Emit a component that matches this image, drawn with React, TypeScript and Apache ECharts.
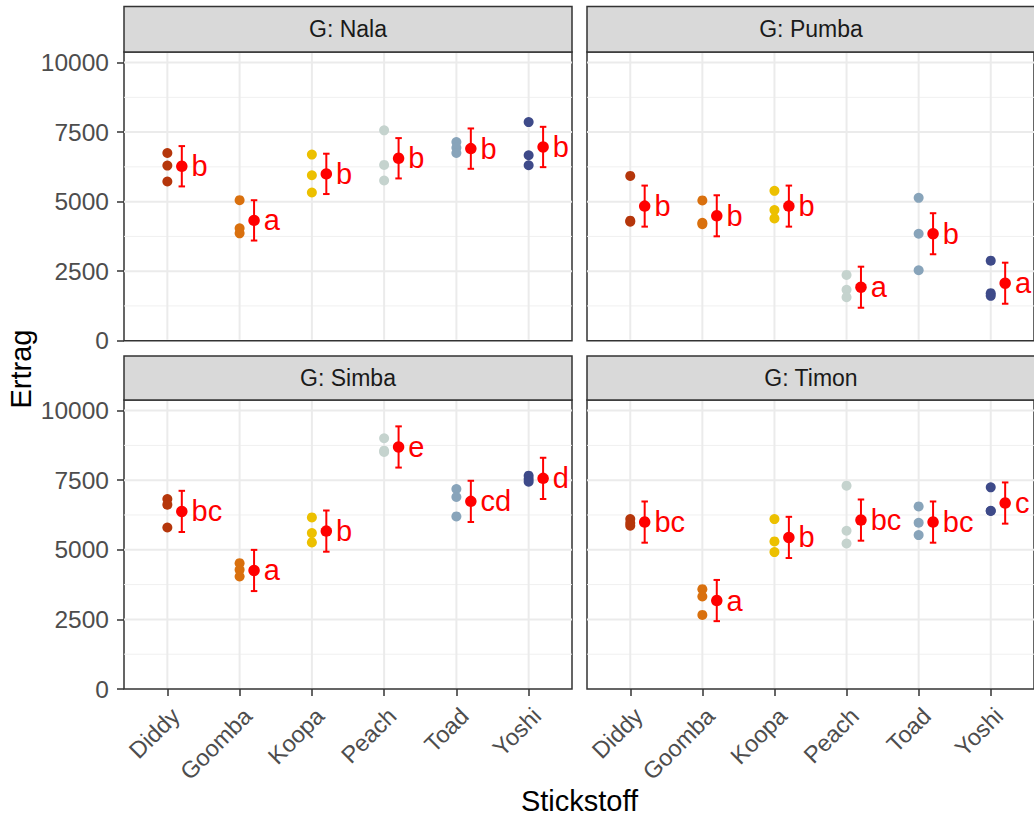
import React, { useEffect, useRef } from "react";
import * as echarts from "echarts";

// ---------- data ----------
const categories = ["Diddy", "Goomba", "Koopa", "Peach", "Toad", "Yoshi"];
const panelTitles = ["G: Nala", "G: Pumba", "G: Simba", "G: Timon"];
const pointColors = ["#B5360B", "#D9700E", "#ECC000", "#C5D3CE", "#88A4BA", "#3E4A89"];

const nalaPoints = [[6749, 6297, 5724], [5054, 4039, 3860], [6691, 5950, 5329], [7563, 6320, 5760], [7143, 6940, 6750], [7861, 6667, 6308]];
const pumbaPoints = [[5925, 4316, 4276], [5043, 4240, 4190], [5387, 4695, 4398], [2366, 1828, 1566], [5137, 3846, 2534], [2878, 1710, 1613]];
const simbaPoints = [[6824, 6619, 5802], [4521, 4281, 4040], [6163, 5600, 5264], [9005, 8561, 8513], [7183, 6895, 6199], [7662, 7543, 7446]];
const timonPoints = [[6104, 5960, 5863], [3585, 3321, 2662], [6104, 5300, 4917], [7302, 5683, 5227], [6559, 5971, 5528], [7242, 6403, 6392]];

const nalaMeans = [6272, 4326, 5998, 6559, 6906, 6965];
const pumbaMeans = [4839, 4491, 4839, 1923, 3846, 2067];
const simbaMeans = [6378, 4257, 5671, 8693, 6739, 7565];
const timonMeans = [5995, 3177, 5444, 6067, 5995, 6679];

const nalaLetters = ["b", "a", "b", "b", "b", "b"];
const pumbaLetters = ["b", "b", "b", "a", "b", "a"];
const simbaLetters = ["bc", "a", "b", "e", "cd", "d"];
const timonLetters = ["bc", "a", "b", "bc", "bc", "c"];

const ciHalf = [725, 738, 740, 740];

const yTicks = [0, 2500, 5000, 7500, 10000];
const yMinor = [1250, 3750, 6250, 8750];
const xAxisTitle = "Stickstoff";
const yAxisTitle = "Ertrag";

// ---------- layout / style ----------
const FONT = "'Liberation Sans', Arial, sans-serif";
const gridRects = [
  { left: 124, top: 52, width: 448, height: 288.7 },
  { left: 587, top: 52, width: 448, height: 288.7 },
  { left: 124, top: 400, width: 448, height: 289 },
  { left: 587, top: 400, width: 448, height: 289 },
];
const stripRects = [
  { x: 124, y: 6.5, w: 448, h: 45.5 },
  { x: 587, y: 6.5, w: 448, h: 45.5 },
  { x: 124, y: 356, w: 448, h: 44 },
  { x: 587, y: 356, w: 448, h: 44 },
];
const MEAN_OFFSET = 0.2;
const CAP_HALF = 0.045;
const LABEL_SHIFT = 0.115;

const allPoints = [nalaPoints, pumbaPoints, simbaPoints, timonPoints];
const allMeans = [nalaMeans, pumbaMeans, simbaMeans, timonMeans];
const allLetters = [nalaLetters, pumbaLetters, simbaLetters, timonLetters];

function buildOption() {
  const grids: any[] = [];
  const xAxes: any[] = [];
  const yAxes: any[] = [];
  const series: any[] = [];
  const graphics: any[] = [];

  for (let g = 0; g < 4; g++) {
    const isBottom = g >= 2;
    const isLeft = g % 2 === 0;
    grids.push({
      ...gridRects[g],
      show: true,
      backgroundColor: "#FFFFFF",
      borderColor: "#333333",
      borderWidth: 1.5,
      containLabel: false,
    });
    xAxes.push({
      type: "value",
      gridIndex: g,
      min: -0.6,
      max: 5.6,
      splitLine: { show: false },
      axisLine: { show: false, onZero: false },
      axisTick: isBottom
        ? {
            show: true,
            customValues: categories.map((_, i) => i),
            length: 7,
            lineStyle: { color: "#333333", width: 1.5 },
          }
        : { show: false },
      axisLabel: isBottom
        ? {
            show: true,
            customValues: categories.map((_, i) => i + LABEL_SHIFT),
            formatter: (v: number) => categories[Math.round(v)] ?? "",
            rotate: 45,
            margin: 23,
            fontSize: 23.5,
            color: "#4D4D4D",
            fontFamily: FONT,
            showMinLabel: true,
            showMaxLabel: true,
          }
        : { show: false },
    });
    yAxes.push({
      type: "value",
      gridIndex: g,
      min: 0,
      max: 10380,
      splitLine: { show: false },
      axisLine: { show: false, onZero: false },
      axisTick: isLeft
        ? {
            show: true,
            customValues: yTicks,
            length: 7,
            lineStyle: { color: "#333333", width: 1.5 },
          }
        : { show: false },
      axisLabel: isLeft
        ? {
            show: true,
            customValues: yTicks,
            formatter: (v: number) => String(v),
            margin: 15,
            fontSize: 24.5,
            color: "#4D4D4D",
            fontFamily: FONT,
            showMinLabel: true,
            showMaxLabel: true,
          }
        : { show: false },
    });

    // grid lines (horizontal: minor + major, vertical: categories)
    const hLines: any[] = [];
    yMinor.forEach((v) => hLines.push([v, 1, "#F0F0F0"]));
    yTicks.filter((v) => v > 0).forEach((v) => hLines.push([v, 2, "#EBEBEB"]));
    series.push({
      type: "custom",
      xAxisIndex: g,
      yAxisIndex: g,
      z: 1,
      silent: true,
      data: hLines.map((d) => [0, d[0]]),
      renderItem: (params: any, api: any) => {
        const cs = params.coordSys;
        const p = api.coord([0, api.value(1)]);
        const d = hLines[params.dataIndex];
        return {
          type: "line",
          shape: { x1: cs.x, y1: p[1], x2: cs.x + cs.width, y2: p[1] },
          style: { stroke: d[2], lineWidth: d[1] },
        };
      },
    });
    series.push({
      type: "custom",
      xAxisIndex: g,
      yAxisIndex: g,
      z: 1,
      silent: true,
      data: categories.map((_, i) => [i, 0]),
      renderItem: (params: any, api: any) => {
        const cs = params.coordSys;
        const p = api.coord([api.value(0), 0]);
        return {
          type: "line",
          shape: { x1: p[0], y1: cs.y + 1, x2: p[0], y2: cs.y + cs.height - 1 },
          style: { stroke: "#EBEBEB", lineWidth: 2 },
        };
      },
    });

    const raw: any[] = [];
    allPoints[g].forEach((vals, i) =>
      vals.forEach((v) => raw.push({ value: [i, v], itemStyle: { color: pointColors[i], opacity: 1 } }))
    );

    series.push({
      type: "scatter",
      xAxisIndex: g,
      yAxisIndex: g,
      data: raw,
      symbolSize: 10,
      itemStyle: { opacity: 1 },
      z: 10,
      silent: true,
    });

    const ci = ciHalf[g];
    series.push({
      type: "custom",
      xAxisIndex: g,
      yAxisIndex: g,
      z: 11,
      silent: true,
      data: allMeans[g].map((m, i) => [i + MEAN_OFFSET, m - ci, m + ci]),
      encode: { x: 0, y: [1, 2] },
      renderItem: (params: any, api: any) => {
        const x = api.value(0);
        const lo = api.value(1);
        const hi = api.value(2);
        const top = api.coord([x, hi]);
        const bot = api.coord([x, lo]);
        const tl = api.coord([x - CAP_HALF, hi]);
        const tr = api.coord([x + CAP_HALF, hi]);
        const bl = api.coord([x - CAP_HALF, lo]);
        const br = api.coord([x + CAP_HALF, lo]);
        const style = { stroke: "#FF0000", lineWidth: 2 };
        return {
          type: "group",
          children: [
            { type: "line", shape: { x1: top[0], y1: top[1], x2: bot[0], y2: bot[1] }, style },
            { type: "line", shape: { x1: tl[0], y1: tl[1], x2: tr[0], y2: tr[1] }, style },
            { type: "line", shape: { x1: bl[0], y1: bl[1], x2: br[0], y2: br[1] }, style },
          ],
        };
      },
    });

    const letters = allLetters[g];
    series.push({
      type: "scatter",
      xAxisIndex: g,
      yAxisIndex: g,
      z: 12,
      silent: true,
      symbolSize: 11.5,
      itemStyle: { color: "#FF0000", opacity: 1 },
      data: allMeans[g].map((m, i) => [i + MEAN_OFFSET, m]),
      label: {
        show: true,
        position: "right",
        distance: 4,
        formatter: (p: any) => letters[p.dataIndex],
        color: "#FF0000",
        fontSize: 29,
        fontFamily: FONT,
      },
    });

    const s = stripRects[g];
    graphics.push({
      type: "rect",
      shape: { x: s.x, y: s.y, width: s.w, height: s.h },
      style: { fill: "#D9D9D9", stroke: "#333333", lineWidth: 1.5 },
      z: 100,
    });
    graphics.push({
      type: "text",
      x: s.x + s.w / 2,
      y: s.y + s.h / 2,
      style: {
        text: panelTitles[g],
        fill: "#1A1A1A",
        font: `23px ${FONT}`,
        align: "center",
        verticalAlign: "middle",
      },
      z: 101,
    });
  }

  graphics.push({
    type: "text",
    x: 579.5,
    y: 801,
    style: { text: xAxisTitle, fill: "#000000", font: `29px ${FONT}`, align: "center", verticalAlign: "middle" },
  });
  graphics.push({
    type: "text",
    x: 21,
    y: 369,
    rotation: Math.PI / 2,
    style: { text: yAxisTitle, fill: "#000000", font: `29px ${FONT}`, align: "center", verticalAlign: "middle" },
  });

  return {
    animation: false,
    backgroundColor: "#FFFFFF",
    grid: grids,
    xAxis: xAxes,
    yAxis: yAxes,
    series,
    graphic: graphics,
  };
}

export default function App() {
  const ref = useRef<HTMLDivElement>(null);
  useEffect(() => {
    if (!ref.current) return;
    const chart = echarts.init(ref.current, null, { renderer: "svg" });
    chart.setOption(buildOption() as any);
    return () => chart.dispose();
  }, []);
  return (
    <div
      ref={ref}
      style={{ position: "absolute", left: 0, top: 0, width: 1034, height: 820 }}
    />
  );
}
